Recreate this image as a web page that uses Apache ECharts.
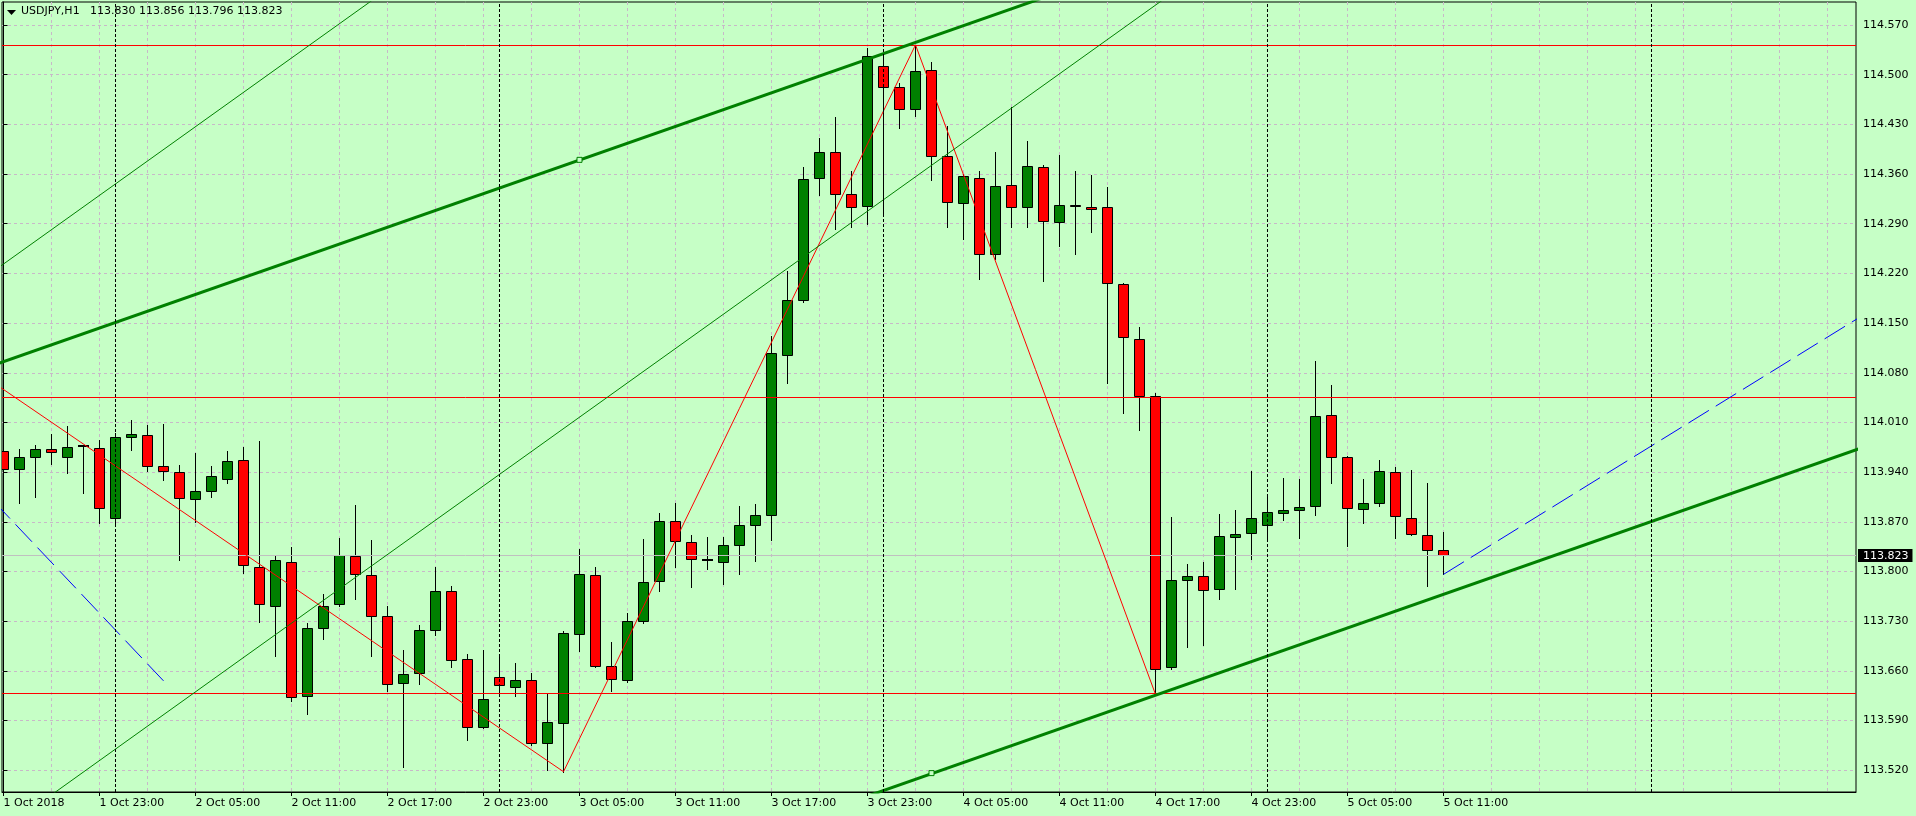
<!DOCTYPE html>
<html>
<head>
<meta charset="utf-8">
<title>USDJPY,H1</title>
<script src="https://cdn.jsdelivr.net/npm/echarts@6/dist/echarts.min.js"></script>
<style>
  html, body { margin: 0; padding: 0; background: #c6ffc6; }
  #chart { width: 1916px; height: 816px; }
</style>
</head>
<body>
<div id="chart"></div>
<script>
// USDJPY H1 candles, one per hour starting 1 Oct 2018 17:00 (bar index = position in array)
var open = [113.970,113.945,113.962,113.972,113.962,113.977,113.974,113.875,113.989,113.993,
  113.948,113.940,113.902,113.914,113.931,113.957,113.807,113.752,113.814,113.624,
  113.720,113.754,113.822,113.795,113.737,113.643,113.657,113.717,113.772,113.677,
  113.581,113.651,113.638,113.647,113.559,113.586,113.712,113.795,113.667,113.647,
  113.731,113.786,113.871,113.841,113.816,113.814,113.838,113.865,113.879,114.105,
  114.182,114.354,114.391,114.332,114.315,114.512,114.482,114.451,114.506,114.386,
  114.319,114.355,114.248,114.344,114.313,114.370,114.293,114.317,114.314,114.313,
  114.205,114.127,114.048,113.666,113.788,113.794,113.775,113.849,113.854,113.865,
  113.883,113.886,113.892,114.020,113.961,113.888,113.896,113.940,113.875,113.851,
  113.830];
var high = [113.976,113.972,113.978,113.994,114.005,113.978,113.985,113.995,114.014,114.006,
  114.008,113.950,113.967,113.948,113.970,113.975,113.984,113.824,113.835,113.728,
  113.769,113.847,113.894,113.845,113.752,113.690,113.725,113.806,113.780,113.684,
  113.690,113.681,113.671,113.657,113.629,113.716,113.832,113.807,113.701,113.741,
  113.846,113.883,113.897,113.852,113.848,113.848,113.892,113.895,114.132,114.223,
  114.370,114.411,114.441,114.364,114.537,114.525,114.488,114.542,114.518,114.427,
  114.360,114.365,114.391,114.454,114.406,114.373,114.387,114.364,114.358,114.342,
  114.207,114.145,114.051,113.877,113.810,113.814,113.881,113.887,113.942,113.909,
  113.932,113.930,114.097,114.063,113.963,113.930,113.957,113.947,113.943,113.925,
  113.856];
var low = [113.940,113.896,113.905,113.952,113.939,113.911,113.869,113.869,113.971,113.941,
  113.929,113.816,113.870,113.905,113.925,113.798,113.729,113.681,113.617,113.599,
  113.705,113.752,113.762,113.681,113.631,113.524,113.641,113.710,113.665,113.562,
  113.579,113.630,113.624,113.556,113.521,113.518,113.688,113.665,113.631,113.645,
  113.728,113.772,113.807,113.778,113.803,113.783,113.796,113.815,113.845,114.065,
  114.180,114.331,114.283,114.286,114.289,114.303,114.425,114.442,114.352,114.286,
  114.268,114.212,114.241,114.286,114.286,114.210,114.258,114.247,114.279,114.065,
  114.024,113.999,113.627,113.663,113.693,113.696,113.762,113.776,113.818,113.846,
  113.872,113.847,113.879,113.925,113.836,113.869,113.893,113.847,113.851,113.780,
  113.796];
var close = [113.944,113.962,113.972,113.969,113.976,113.977,113.889,113.989,113.994,113.949,
  113.941,113.903,113.914,113.934,113.956,113.809,113.754,113.816,113.623,113.720,
  113.752,113.824,113.796,113.737,113.641,113.655,113.717,113.772,113.676,113.581,
  113.620,113.640,113.647,113.558,113.588,113.714,113.796,113.667,113.648,113.731,
  113.785,113.871,113.843,113.817,113.816,113.837,113.865,113.879,114.108,114.182,
  114.353,114.391,114.332,114.313,114.527,114.482,114.451,114.505,114.386,114.320,
  114.357,114.248,114.343,114.313,114.372,114.294,114.317,114.315,114.311,114.206,
  114.130,114.047,113.663,113.788,113.794,113.774,113.850,113.853,113.875,113.884,
  113.886,113.891,114.019,113.962,113.889,113.896,113.941,113.878,113.853,113.830,
  113.823];

// time axis labels (bar index -> text)
var tickBars = [0, 6, 12, 18, 24, 30, 36, 42, 48, 54, 60, 66, 72, 78, 84, 90];
var tickLabels = ['1 Oct 2018', '1 Oct 23:00', '2 Oct 05:00', '2 Oct 11:00', '2 Oct 17:00',
  '2 Oct 23:00', '3 Oct 05:00', '3 Oct 11:00', '3 Oct 17:00', '3 Oct 23:00', '4 Oct 05:00',
  '4 Oct 11:00', '4 Oct 17:00', '4 Oct 23:00', '5 Oct 05:00', '5 Oct 11:00'];
var priceTicks = [113.520, 113.590, 113.660, 113.730, 113.800, 113.870, 113.940, 114.010,
  114.080, 114.150, 114.220, 114.290, 114.360, 114.430, 114.500, 114.570];

// daily period separators (midnight bars)
var separatorBars = [7, 31, 55, 79, 103];
// horizontal levels
var redLevels = [114.542, 114.046, 113.629];
var bidPrice = 113.823;

// drawn objects, as [bar, price] points
var zigzag = [[-4, 114.118], [35, 113.518], [57, 114.542], [72, 113.627]];
var channelUpper = [[-2, 114.080], [70, 114.648]];
var channelLower = [[50, 113.452], [118, 113.989]];
var channelAnchors = [[36, 114.380], [58, 113.516]];
var thinUpper = [[-2, 114.201], [30, 114.717]];
var thinLower = [[0, 113.437], [80, 114.727]];
var blueLeft = [[-2, 113.932], [10, 113.646]];
var blueRight = [[90, 113.796], [118, 114.186]];

var BG = '#c6ffc6';
var GRID = '#c8b8c8';
var FONT = 'DejaVu Sans';
var X_MIN = -0.09375, X_MAX = 115.78125;
var Y_MIN = 113.4894, Y_MAX = 114.6024;

var gridBars = [];
for (var b = 0; b <= 114; b += 3) gridBars.push(b);

var candles = open.map(function (o, i) {
  return [i, o, high[i], low[i], close[i]];
});

function renderCandle(params, api) {
  var i = api.value(0);
  var o = api.value(1), h = api.value(2), l = api.value(3), c = api.value(4);
  var pO = api.coord([i, o]), pC = api.coord([i, c]);
  var pH = api.coord([i, h]), pL = api.coord([i, l]);
  var cx = Math.floor(pO[0]) + 0.5;
  var top = Math.round(Math.min(pO[1], pC[1]));
  var bot = Math.round(Math.max(pO[1], pC[1]));
  var kids = [{
    type: 'line',
    shape: { x1: cx, y1: Math.round(pH[1]), x2: cx, y2: Math.round(pL[1]) + 1 },
    style: { stroke: '#000', lineWidth: 1 }
  }];
  if (bot - top < 1) {
    kids.push({
      type: 'rect',
      shape: { x: cx - 5.5, y: top - 1, width: 11, height: 2 },
      style: { fill: '#000' }
    });
  } else {
    kids.push({
      type: 'rect',
      shape: { x: cx - 5, y: top + 0.5, width: 10, height: bot - top },
      style: { fill: c > o ? '#008000' : '#ff0000', stroke: '#000', lineWidth: 1 }
    });
  }
  return { type: 'group', children: kids };
}

// crisp full-width horizontal line at a price, optional price box on the right
function levelRenderer(color, withLabel) {
  return function (params, api) {
    var cs = params.coordSys;
    var y = Math.round(api.coord([api.value(0), api.value(1)])[1]) + 0.5;
    var kids = [{
      type: 'line',
      shape: { x1: cs.x, y1: y, x2: cs.x + cs.width, y2: y },
      style: { stroke: color, lineWidth: 1 }
    }];
    if (withLabel) {
      kids.push({
        type: 'text',
        x: cs.x + cs.width + 2, y: y - 6.5,
        style: {
          text: api.value(1).toFixed(3), fill: '#fff', backgroundColor: '#000',
          padding: [1, 4, 0, 5], font: '11px "DejaVu Sans"', lineHeight: 12,
          verticalAlign: 'top', align: 'left'
        }
      });
    }
    return { type: 'group', children: kids };
  };
}

function lineSeries(points, color, width, dash) {
  return {
    type: 'line', data: points, symbol: 'none', silent: true, z: 4,
    clip: true, animation: false,
    lineStyle: { color: color, width: width, type: dash || 'solid' }
  };
}

var last = open.length - 1;
var headline = 'USDJPY,H1   ' + [open[last], high[last], low[last], close[last]].map(function (v) {
  return v.toFixed(3);
}).join(' ');

var chart = echarts.init(document.getElementById('chart'));
chart.setOption({
  animation: false,
  backgroundColor: BG,
  textStyle: { fontFamily: FONT },
  graphic: [{
    type: 'polygon', z: 10,
    shape: { points: [[7, 10], [16, 10], [11.5, 15]] },
    style: { fill: '#000' }
  }, {
    type: 'text', left: 21, top: 6, z: 10,
    style: { text: headline, fill: '#000', font: '11px "DejaVu Sans"' }
  }],
  grid: {
    left: 2, top: 2, right: 60, bottom: 24,
    show: true, borderColor: '#000', borderWidth: 1, backgroundColor: 'transparent'
  },
  xAxis: [{
    type: 'value', min: X_MIN, max: X_MAX, position: 'bottom',
    axisLine: { show: true, lineStyle: { color: '#000', width: 1 } },
    axisTick: { show: false, customValues: gridBars },
    axisLabel: { show: false },
    splitLine: { show: true, lineStyle: { color: GRID, type: [3, 3], width: 1 } }
  }, {
    type: 'value', min: X_MIN, max: X_MAX, position: 'bottom',
    axisLine: { show: false },
    axisTick: { show: true, length: 4, customValues: tickBars, lineStyle: { color: '#000' } },
    axisLabel: {
      customValues: tickBars, align: 'left', margin: 6,
      color: '#000', fontSize: 11, fontFamily: FONT,
      formatter: function (v) {
        var k = tickBars.indexOf(Math.round(v));
        return k < 0 ? '' : tickLabels[k];
      }
    },
    splitLine: { show: false }
  }],
  yAxis: {
    type: 'value', position: 'right', min: Y_MIN, max: Y_MAX, scale: true,
    axisLine: { show: true, lineStyle: { color: '#000', width: 1 } },
    axisTick: { show: true, length: 4, customValues: priceTicks, lineStyle: { color: '#000' } },
    axisLabel: {
      customValues: priceTicks, margin: 7, color: '#000', fontSize: 11, fontFamily: FONT,
      formatter: function (v) { return v.toFixed(3); }
    },
    splitLine: { show: true, lineStyle: { color: GRID, type: [3, 3], width: 1 } }
  },
  series: [
    {
      // period separators
      type: 'line', data: [], z: 1, silent: true,
      markLine: {
        silent: true, symbol: ['none', 'none'], animation: false,
        label: { show: false },
        lineStyle: { color: '#000', type: [3, 2], width: 1 },
        data: separatorBars.map(function (v) { return { xAxis: v }; })
      }
    },
    {
      type: 'custom', data: candles, z: 2, clip: true, silent: true,
      encode: { x: 0, y: [1, 2, 3, 4] },
      renderItem: renderCandle
    },
    {
      type: 'custom', z: 3, silent: true, clip: false,
      data: redLevels.map(function (v) { return [X_MIN, v]; }),
      encode: { x: 0, y: 1 },
      renderItem: levelRenderer('#ff0000', false)
    },
    {
      type: 'custom', z: 3, silent: true, clip: false,
      data: [[X_MIN, bidPrice]],
      encode: { x: 0, y: 1 },
      renderItem: levelRenderer('#c0c0c0', true)
    },
    lineSeries(zigzag, '#ff0000', 1),
    lineSeries(thinUpper, '#008000', 1),
    lineSeries(thinLower, '#008000', 1),
    lineSeries(channelUpper, '#008000', 3),
    lineSeries(channelLower, '#008000', 3),
    lineSeries(blueLeft, '#0000ff', 1, [24, 8]),
    lineSeries(blueRight, '#0000ff', 1, [24, 8]),
    {
      type: 'scatter', data: channelAnchors, z: 5, silent: true,
      symbol: 'rect', symbolSize: 5,
      itemStyle: { color: BG, borderColor: '#008000', borderWidth: 1, opacity: 1 }
    }
  ]
});
</script>
</body>
</html>
